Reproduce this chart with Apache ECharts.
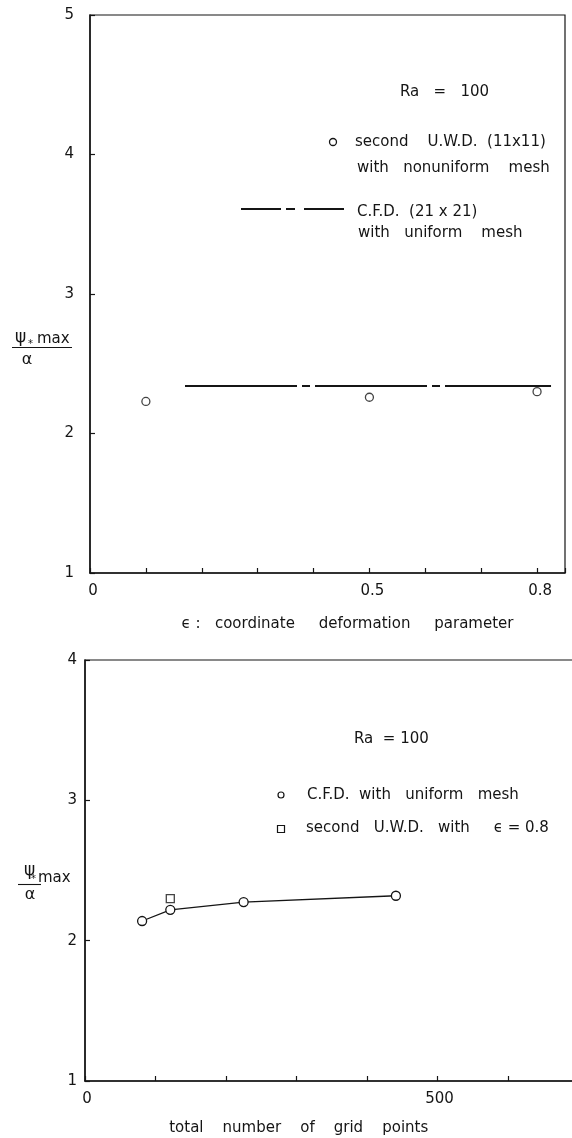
<!DOCTYPE html>
<html>
<head>
<meta charset="utf-8">
<script src="https://cdn.jsdelivr.net/npm/echarts/dist/echarts.min.js"></script>
<style>
  html, body { margin: 0; padding: 0; background: #fff; }
  #chart { width: 572px; height: 1138px; }
</style>
</head>
<body>
<div id="chart"></div>
<script>
// Upper panel: psi*max / alpha against the coordinate deformation parameter (Ra = 100)
const epsilonValues = [0.1, 0.5, 0.8];
const uwdNonuniform = [2.23, 2.26, 2.30];
const cfdUniformExtent = [0.17, 0.825];   // epsilon span of the C.F.D. (21x21) reference line
const cfdUniformValue = 2.34;
const epsTickLabels = ['0', '0.5', '0.8'];
const upperYTicks = ['1', '2', '3', '4', '5'];

// Lower panel: psi*max / alpha against the total number of grid points
const gridPoints = [81, 121, 225, 441];
const cfdGridValues = [2.14, 2.22, 2.275, 2.32];
const uwdGridPoints = [121];
const uwdGridValues = [2.30];
const gridTickLabels = ['0', '500'];
const lowerYTicks = ['1', '2', '3', '4'];

const ink = '#151515';
const face = 'DejaVu Sans';

function pickLabel(list) {
  return v => list.find(t => Math.abs(parseFloat(t) - v) < 1e-6) || '';
}

function xAxisFor(grid, min, max, step, labels, name, gap, pad, labelPad) {
  return {
    gridIndex: grid, type: 'value', min: min, max: max, interval: step,
    axisLine: { show: true, onZero: false, lineStyle: { color: ink, width: 1.5 } },
    axisTick: { show: true, inside: true, length: 5, lineStyle: { color: ink, width: 1.2 } },
    splitLine: { show: false },
    axisLabel: { margin: 11, color: ink, fontSize: 15, fontFamily: face,
                 padding: labelPad, formatter: pickLabel(labels) },
    name: name, nameLocation: 'middle', nameGap: gap,
    nameTextStyle: { color: ink, fontSize: 15, fontFamily: face, padding: pad }
  };
}

function yAxisFor(grid, min, max, labels, margin) {
  return {
    gridIndex: grid, type: 'value', min: min, max: max, interval: 1,
    axisLine: { show: true, onZero: false, lineStyle: { color: ink, width: 1.5 } },
    axisTick: { show: true, inside: true, length: 5, lineStyle: { color: ink, width: 1.2 } },
    splitLine: { show: false },
    axisLabel: { margin: margin, color: ink, fontSize: 15, fontFamily: face,
                 formatter: pickLabel(labels) }
  };
}

function txt(x, y, text, size, align) {
  return {
    type: 'text', x: x, y: y, silent: true,
    style: {
      text: text, fill: ink, font: size + 'px "' + face + '"',
      textAlign: align || 'left', textVerticalAlign: 'middle',
      align: align || 'left', verticalAlign: 'middle'
    }
  };
}

const hollow = { color: '#fff', borderColor: ink, borderWidth: 1.3 };

const chart = echarts.init(document.getElementById('chart'), null, { renderer: 'canvas' });

chart.setOption({
  animation: false,
  backgroundColor: '#fff',
  grid: [
    { left: 90, top: 15, width: 475, height: 558, show: true, containLabel: false,
      outerBoundsMode: 'none',
      borderColor: ink, borderWidth: 1.2, backgroundColor: 'transparent' },
    { left: 85, top: 660, width: 493.5, height: 421, show: true, containLabel: false,
      outerBoundsMode: 'none',
      borderColor: ink, borderWidth: 1.2, backgroundColor: 'transparent' }
  ],
  xAxis: [
    xAxisFor(0, 0, 0.85, 0.1, epsTickLabels,
             'ϵ :   coordinate     deformation     parameter', 44, [0, 0, 0, 40], [0, 0, 0, 6]),
    xAxisFor(1, 0, 700, 100, gridTickLabels,
             'total    number    of    grid    points', 40, [0, 66, 0, 0], [0, 0, 0, 4])
  ],
  yAxis: [
    yAxisFor(0, 1, 5, upperYTicks, 16),
    yAxisFor(1, 1, 4, lowerYTicks, 8)
  ],
  series: [
    {
      name: 'second U.W.D.(11x11) with nonuniform mesh',
      type: 'scatter', xAxisIndex: 0, yAxisIndex: 0,
      symbol: 'circle', symbolSize: 8, itemStyle: hollow, z: 4,
      data: epsilonValues.map((e, i) => [e, uwdNonuniform[i]])
    },
    {
      name: 'C.F.D.(21x21) with uniform mesh',
      type: 'line', xAxisIndex: 0, yAxisIndex: 0,
      symbol: 'none', z: 3,
      lineStyle: { color: ink, width: 2, type: [112, 5, 8, 5] },
      data: cfdUniformExtent.map(e => [e, cfdUniformValue])
    },
    {
      name: 'C.F.D. with uniform mesh',
      type: 'line', xAxisIndex: 1, yAxisIndex: 1,
      symbol: 'circle', symbolSize: 9, itemStyle: hollow, z: 3,
      lineStyle: { color: ink, width: 1.3 },
      data: gridPoints.map((n, i) => [n, cfdGridValues[i]])
    },
    {
      name: 'second U.W.D. with ϵ = 0.8',
      type: 'scatter', xAxisIndex: 1, yAxisIndex: 1,
      symbol: 'rect', symbolSize: 8, itemStyle: hollow, z: 4,
      data: uwdGridPoints.map((n, i) => [n, uwdGridValues[i]])
    }
  ],
  graphic: [
    // upper panel key
    txt(400, 92, 'Ra   =   100', 15),
    { type: 'circle', shape: { cx: 333, cy: 142, r: 3.5 },
      style: { fill: '#fff', stroke: ink, lineWidth: 1.3 } },
    txt(355, 142, 'second    U.W.D.  (11x11)', 15),
    txt(357, 168, 'with   nonuniform    mesh', 15),
    { type: 'line', shape: { x1: 241, y1: 209, x2: 345, y2: 209 },
      style: { stroke: ink, lineWidth: 2, lineDash: [40, 5, 9, 9] } },
    txt(357, 212, 'C.F.D.  (21 x 21)', 15),
    txt(358, 233, 'with   uniform    mesh', 15),
    // upper panel vertical-axis quantity
    txt(15, 338, 'ψ', 17),
    txt(28, 344, '*', 10),
    txt(37, 339, 'max', 15),
    { type: 'line', shape: { x1: 12, y1: 347.5, x2: 72, y2: 347.5 },
      style: { stroke: ink, lineWidth: 1.1 } },
    txt(27, 360, 'α', 16, 'center'),

    // lower panel key
    txt(354, 739, 'Ra  = 100', 15),
    { type: 'circle', shape: { cx: 281, cy: 795, r: 3 },
      style: { fill: '#fff', stroke: ink, lineWidth: 1.2 } },
    txt(307, 795, 'C.F.D.  with   uniform   mesh', 15),
    { type: 'rect', shape: { x: 277.5, y: 825.5, width: 7, height: 7 },
      style: { fill: '#fff', stroke: ink, lineWidth: 1.2 } },
    txt(306, 828, 'second   U.W.D.   with     ϵ = 0.8', 15),
    // lower panel vertical-axis quantity
    txt(24, 871, 'ψ', 17),
    txt(31, 879, '*', 10),
    txt(38, 878, 'max', 15),
    { type: 'line', shape: { x1: 18, y1: 884.5, x2: 41, y2: 884.5 },
      style: { stroke: ink, lineWidth: 1.1 } },
    txt(30, 895, 'α', 16, 'center')
  ]
});
</script>
</body>
</html>
